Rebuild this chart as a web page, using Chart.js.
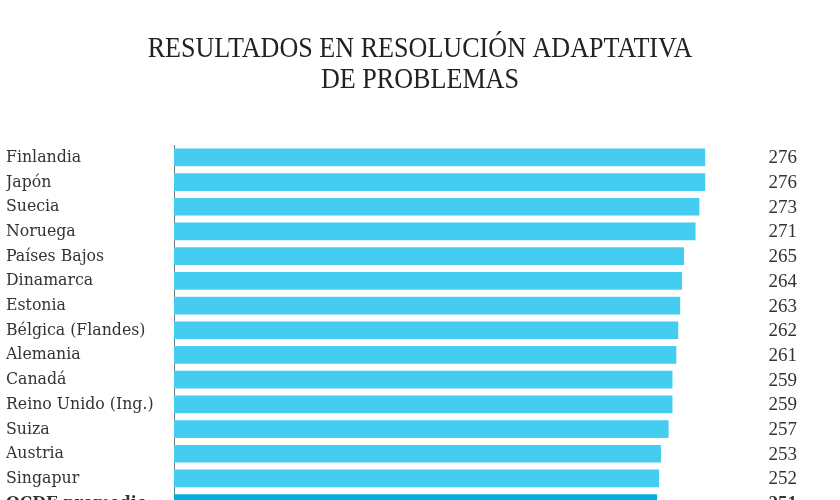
<!DOCTYPE html>
<html>
<head>
<meta charset="utf-8">
<script src="https://cdn.jsdelivr.net/npm/chart.js@4"></script>
<style>
    html, body { margin: 0; padding: 0; background: #fff; overflow: hidden; width: 840px; height: 500px; }
    #wrap { width: 840px; height: 526px; }
</style>
</head>
<body>
<div id="wrap"><canvas id="bar-chart"></canvas></div>
<script>
    // Resultados por país (puntos)
    var paises = ['Finlandia', 'Japón', 'Suecia', 'Noruega', 'Países Bajos', 'Dinamarca', 'Estonia',
        'Bélgica (Flandes)', 'Alemania', 'Canadá', 'Reino Unido (Ing.)', 'Suiza', 'Austria', 'Singapur',
        'OCDE promedio'];
    var puntos = [276, 276, 273, 271, 265, 264, 263, 262, 261, 259, 259, 257, 253, 252, 251];
    var titulo = ['RESULTADOS EN RESOLUCIÓN ADAPTATIVA', 'DE PROBLEMAS'];

    var promedio = paises.length - 1;
    var serif = "'Liberation Serif', 'Times New Roman', serif";
    var serifEtiq = "'DejaVu Serif Condensed', 'DejaVu Serif', serif";

    // titulo estrecho, centrado en la página
    var cabecera = {
        id: 'cabecera',
        afterDraw: function(chart) {
            var ctx = chart.ctx;
            ctx.save();
            ctx.fillStyle = '#222';
            ctx.font = '30px ' + serif;
            ctx.textAlign = 'center';
            ctx.textBaseline = 'alphabetic';
            ctx.translate(420, 0);
            ctx.scale(0.87, 1);
            ctx.fillText(titulo[0], 0, 57);
            ctx.fillText(titulo[1], 0, 88);
            ctx.restore();
        }
    };

    // etiqueta con el valor a la derecha de cada barra
    var valores = {
        id: 'valores',
        afterDatasetsDraw: function(chart) {
            var ctx = chart.ctx;
            var meta = chart.getDatasetMeta(0);
            ctx.save();
            ctx.textAlign = 'right';
            ctx.textBaseline = 'middle';
            ctx.fillStyle = '#333';
            meta.data.forEach(function(bar, i) {
                ctx.font = (i === promedio ? 'bold ' : '') + '19px ' + serif;
                ctx.fillText(puntos[i], 797, bar.y + 1);
            });
            ctx.restore();
        }
    };

    var ctx = document.getElementById('bar-chart').getContext('2d');
    var myChart = new Chart(ctx, {
        type: 'bar',
        data: {
            labels: paises,
            datasets: [{
                data: puntos,
                backgroundColor: puntos.map(function(v, i) { return i === promedio ? '#00aee0' : '#45cdf1'; }),
                borderWidth: 0,
                barThickness: 17
            }]
        },
        plugins: [valores, cabecera],
        options: {
            indexAxis: 'y',
            responsive: true,
            maintainAspectRatio: false,
            animation: false,
            layout: {
                padding: { left: 6, right: 89, top: 145, bottom: 0 }
            },
            scales: {
                x: {
                    display: false,
                    min: 0,
                    max: 300
                },
                y: {
                    grid: { display: false, drawTicks: false },
                    border: { display: true, color: '#777', width: 1 },
                    ticks: {
                        autoSkip: false,
                        crossAlign: 'far',
                        color: '#333',
                        padding: 0,
                        font: function(c) {
                            return { family: serifEtiq, size: 17.5, weight: c.index === promedio ? 'bold' : 'normal' };
                        }
                    },
                    afterFit: function(scale) {
                        scale.width = 168;
                    }
                }
            },
            plugins: {
                legend: { display: false },
                tooltip: { enabled: false },
                title: { display: false }
            }
        }
    });
</script>
</body>
</html>
